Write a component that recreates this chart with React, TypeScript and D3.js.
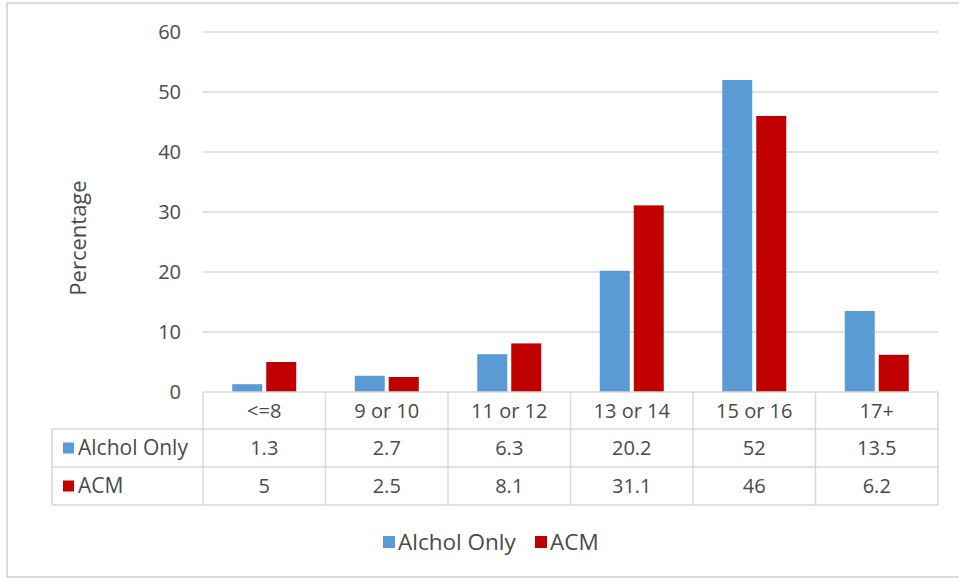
import React from "react";
import * as d3 from "d3";

const categories = ["<=8", "9 or 10", "11 or 12", "13 or 14", "15 or 16", "17+"];
const alcoholOnly = [1.3, 2.7, 6.3, 20.2, 52, 13.5];
const acm = [5, 2.5, 8.1, 31.1, 46, 6.2];
const seriesNames = ["Alchol Only", "ACM"];
const seriesColors = ["#5b9bd5", "#c00000"];
const yTicks = [0, 10, 20, 30, 40, 50, 60];

const W = 959;
const H = 579;
const FONT = "'Open Sans', 'Noto Sans', sans-serif";
const TXT = "#4a4a4a";

export default function App() {
  const left = 203;
  const right = 938;
  const x = d3.scaleBand<string>().domain(categories).range([left, right]).paddingInner(0).paddingOuter(0);
  const y = d3.scaleLinear().domain([0, 60]).range([392, 32]);
  const barW = 30;
  const gap = 4;
  const offset = (x.bandwidth() - 2 * barW - gap) / 2;
  const inner = d3.scaleOrdinal<string, number>().domain(seriesNames).range([offset, offset + barW + gap]);
  const series = [alcoholOnly, acm];

  const rowTop = 392;
  const rowBottoms = [429, 467, 505];
  const labelLeft = 52;

  return (
    <svg width={W} height={H} style={{ position: "absolute", left: 0, top: 0, background: "#fff" }}>
      <rect x={7} y={3} width={W} height={574} fill="#fff" stroke="#d0d0d0" strokeWidth={1.5} />
      {yTicks.map((t) => (
        <g key={t}>
          {t > 0 && <line x1={left} x2={right} y1={y(t)} y2={y(t)} stroke="#d9d9d9" strokeWidth={1.5} />}
          <text x={181} y={y(t)} dy="0.35em" textAnchor="end" fontFamily={FONT} fontSize={20} fill={TXT}>{t}</text>
        </g>
      ))}
      <text transform={`translate(78,238) rotate(-90)`} textAnchor="middle" dy="0.35em" fontFamily={FONT} fontSize={22} fill={TXT}>Percentage</text>
      {series.map((vals, si) =>
        categories.map((c, i) => (
          <rect key={si + "-" + c}
            x={(x(c) as number) + inner(seriesNames[si])}
            width={barW}
            y={y(vals[i])}
            height={y(0) - y(vals[i])}
            fill={seriesColors[si]} />
        ))
      )}
      {/* table */}
      <g stroke="#d9d9d9" strokeWidth={1.5} fill="none">
        <line x1={left} x2={right} y1={rowTop} y2={rowTop} />
        <line x1={labelLeft} x2={right} y1={rowBottoms[0]} y2={rowBottoms[0]} />
        <line x1={labelLeft} x2={right} y1={rowBottoms[1]} y2={rowBottoms[1]} />
        <line x1={labelLeft} x2={right} y1={rowBottoms[2]} y2={rowBottoms[2]} />
        <line x1={labelLeft} x2={labelLeft} y1={rowBottoms[0]} y2={rowBottoms[2]} />
        {categories.map((c) => (
          <line key={c} x1={x(c) as number} x2={x(c) as number} y1={rowTop} y2={rowBottoms[2]} />
        ))}
        <line x1={right} x2={right} y1={rowTop} y2={rowBottoms[2]} />
      </g>
      {categories.map((c, i) => {
        const cx = (x(c) as number) + x.bandwidth() / 2;
        return (
          <g key={c} fontFamily={FONT} fontSize={20} fill={TXT} textAnchor="middle">
            <text x={cx} y={(rowTop + rowBottoms[0]) / 2} dy="0.35em">{c}</text>
            <text x={cx} y={(rowBottoms[0] + rowBottoms[1]) / 2} dy="0.35em">{alcoholOnly[i]}</text>
            <text x={cx} y={(rowBottoms[1] + rowBottoms[2]) / 2} dy="0.35em">{acm[i]}</text>
          </g>
        );
      })}
      {seriesNames.map((s, si) => {
        const cy = (rowBottoms[si] + rowBottoms[si + 1]) / 2;
        return (
          <g key={s}>
            <rect x={63} y={cy - 5.5} width={11} height={11} fill={seriesColors[si]} />
            <text x={78} y={cy} dy="0.35em" fontFamily={FONT} fontSize={21} fill={TXT}>{s}</text>
          </g>
        );
      })}
      {/* legend */}
      {(() => {
        const items = [
          { name: seriesNames[0], x0: 383, color: seriesColors[0] },
          { name: seriesNames[1], x0: 535, color: seriesColors[1] },
        ];
        return items.map((it) => (
          <g key={it.name}>
            <rect x={it.x0} y={536} width={12} height={12} fill={it.color} />
            <text x={it.x0 + 15} y={542} dy="0.35em" fontFamily={FONT} fontSize={22.5} fill={TXT}>{it.name}</text>
          </g>
        ));
      })()}
    </svg>
  );
}
